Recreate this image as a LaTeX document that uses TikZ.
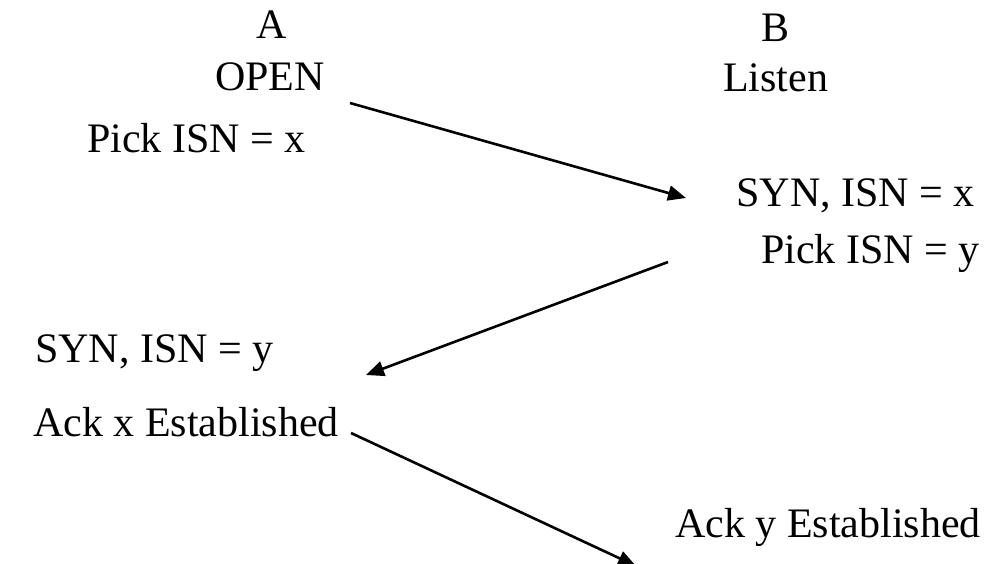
\documentclass[tikz,border=0pt]{standalone}
\usepackage{fontspec}
\setmainfont{Liberation Serif}
\usetikzlibrary{arrows.meta}
\begin{document}
\begin{tikzpicture}[x=1pt,y=-1pt,
  lbl/.style={inner sep=0pt,font=\fontsize{42}{50}\selectfont},
  msg/.style={line width=2.6pt,-{Triangle[length=18pt,width=15pt]}}]
\useasboundingbox (0,0) rectangle (988,564);
% host A
\node[lbl,anchor=base] (a) at (271.5,39) {A};
\node[lbl,anchor=base] (aopen) at (270,91) {OPEN};
\node[lbl,anchor=base west] (apick) at (87,153) {Pick ISN = x};
% host B
\node[lbl,anchor=base] (b) at (775.5,42) {B};
\node[lbl,anchor=base] (blisten) at (775.5,92) {Listen};
\node[lbl,anchor=base east] (bsyn) at (975,207) {SYN, ISN = x};
\node[lbl,anchor=base east] (bpick) at (980,264) {Pick ISN = y};
% A receives
\node[lbl,anchor=base west] (asyn) at (35,362) {SYN, ISN = y};
\node[lbl,anchor=base west] (aack) at (33,436) {Ack x Established};
% B receives
\node[lbl,anchor=base west] (back) at (675,537) {Ack y Established};
% message arrows
\coordinate (m1s) at (350,103);
\coordinate (m1e) at (686,198);
\coordinate (m2s) at (668,262);
\coordinate (m2e) at (366,375);
\coordinate (m3s) at (351,433);
\coordinate (m3e) at (636,566);
\draw[msg] (m1s) -- (m1e);
\draw[msg] (m2s) -- (m2e);
\draw[msg] (m3s) -- (m3e);
\end{tikzpicture}
\end{document}
